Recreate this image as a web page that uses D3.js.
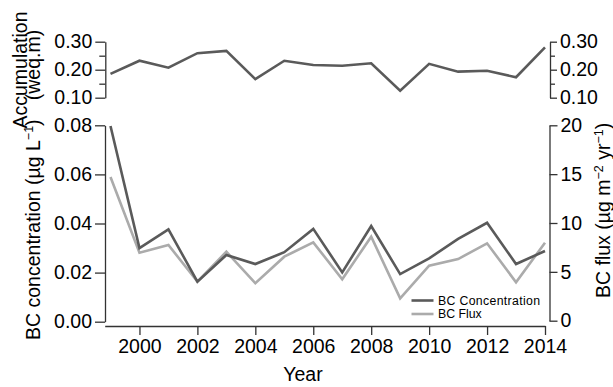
<!DOCTYPE html>
<html>
<head>
<meta charset="utf-8">
<script src="https://cdn.jsdelivr.net/npm/d3@7"></script>
<style>
  html, body { margin: 0; padding: 0; background: #fff; }
  svg { display: block; font-family: "Liberation Sans", Arial, sans-serif; }
  .axis text { font-size: 19.5px; fill: #000; }
  .axis path, .axis line { stroke: #333; stroke-width: 1.3; }
</style>
</head>
<body>
<svg id="chart" width="613" height="387"></svg>
<script>
// Annual records, 1999–2014
const years = [1999, 2000, 2001, 2002, 2003, 2004, 2005, 2006, 2007, 2008, 2009, 2010, 2011, 2012, 2013, 2014];
// Snow accumulation (weq.m)
const accumulation = [0.185, 0.232, 0.207, 0.259, 0.267, 0.166, 0.232, 0.217, 0.214, 0.223, 0.125, 0.221, 0.193, 0.196, 0.173, 0.280];
// BC concentration (µg L-1)
const bcConcentration = [0.0797, 0.0300, 0.0376, 0.0163, 0.0272, 0.0235, 0.0283, 0.0378, 0.0201, 0.0390, 0.0194, 0.0258, 0.0337, 0.0403, 0.0235, 0.0288];
// BC flux (µg m-2 yr-1)
const bcFlux = [14.7, 6.96, 7.75, 4.0, 7.06, 3.83, 6.55, 8.02, 4.24, 8.6, 2.29, 5.63, 6.31, 7.92, 3.93, 7.98];

const yearTicks = [2000, 2002, 2004, 2006, 2008, 2010, 2012, 2014];
const concTicks = [0, 0.02, 0.04, 0.06, 0.08];
const fluxTicks = [0, 5, 10, 15, 20];
const accTicks = [0.10, 0.15, 0.20, 0.25, 0.30];
const accLabelTicks = [0.10, 0.20, 0.30];

const DARK = "#5a5a5a";
const LIGHT = "#ababab";

const svg = d3.select("#chart");

const x = d3.scaleLinear().domain([1998.8, 2014]).range([104.7, 545]);
const yAcc = d3.scaleLinear().domain([0.10, 0.30]).range([97.7, 41.7]);
const yConc = d3.scaleLinear().domain([0, 0.08]).range([321.7, 125.3]);
const yFlux = d3.scaleLinear().domain([0, 20]).range([320.7, 125.3]);

// ---- top panel: accumulation ----
const accFmt = d => accLabelTicks.some(t => Math.abs(t - d) < 1e-9) ? d3.format(".2f")(d) : "";
const isMinor = d => accFmt(d) === "";

const accLeft = svg.append("g").attr("class", "axis")
  .attr("transform", "translate(105.3,0)")
  .call(d3.axisLeft(yAcc).tickValues(accTicks).tickFormat(accFmt).tickSize(10).tickSizeOuter(0).tickPadding(3));
accLeft.selectAll(".tick").filter(isMinor).select("line").attr("x2", -6);

const accRight = svg.append("g").attr("class", "axis")
  .attr("transform", "translate(550,0)")
  .call(d3.axisRight(yAcc).tickValues(accTicks).tickFormat(accFmt).tickSize(7).tickSizeOuter(0).tickPadding(3));
accRight.selectAll(".tick").filter(isMinor).select("line").attr("x2", 5);

svg.append("path")
  .datum(years.map((yr, i) => [yr, accumulation[i]]))
  .attr("fill", "none").attr("stroke", DARK).attr("stroke-width", 2.6).attr("stroke-linejoin", "miter")
  .attr("d", d3.line().x(d => x(d[0])).y(d => yAcc(d[1])));

// ---- bottom panel: BC concentration and flux ----
svg.append("g").attr("class", "axis")
  .attr("transform", "translate(105,0)")
  .call(d3.axisLeft(yConc).tickValues(concTicks).tickFormat(d3.format(".2f")).tickSize(10).tickSizeOuter(0).tickPadding(3));

svg.append("g").attr("class", "axis")
  .attr("transform", "translate(549.5,0)")
  .call(d3.axisRight(yFlux).tickValues(fluxTicks).tickFormat(d3.format("d")).tickSize(8).tickSizeOuter(0).tickPadding(3));

svg.append("g").attr("class", "axis")
  .attr("transform", "translate(0,326)")
  .call(d3.axisBottom(x).tickValues(yearTicks).tickFormat(d3.format("d")).tickSize(9).tickSizeOuter(0).tickPadding(4));

svg.append("path")
  .datum(years.map((yr, i) => [yr, bcFlux[i]]))
  .attr("fill", "none").attr("stroke", LIGHT).attr("stroke-width", 2.6)
  .attr("d", d3.line().x(d => x(d[0])).y(d => yFlux(d[1])));

svg.append("path")
  .datum(years.map((yr, i) => [yr, bcConcentration[i]]))
  .attr("fill", "none").attr("stroke", DARK).attr("stroke-width", 2.6)
  .attr("d", d3.line().x(d => x(d[0])).y(d => yConc(d[1])));

// ---- legend ----
const legend = svg.append("g").attr("transform", "translate(411.5,300.5)");
[["BC Concentration", DARK], ["BC Flux", LIGHT]].forEach(([name, color], i) => {
  const row = legend.append("g").attr("transform", `translate(0,${i * 13.5})`);
  row.append("line").attr("x1", 0).attr("x2", 22).attr("stroke", color).attr("stroke-width", 2.6);
  row.append("text").attr("x", 26.5).attr("y", 4.3).attr("font-size", 12.3)
    .attr("textLength", i === 0 ? 102 : null).attr("fill", "#000").text(name);
});

// ---- axis titles ----
const title = (tx, ty, anchor) => svg.append("text")
  .attr("transform", `translate(${tx},${ty}) rotate(-90)`)
  .attr("text-anchor", anchor).attr("font-size", 19.5).attr("fill", "#000");

const sup = (t, s) => t.append("tspan").attr("baseline-shift", "super").attr("font-size", 12.5).text(s);

svg.append("text")
  .attr("x", 303).attr("y", 381).attr("text-anchor", "middle")
  .attr("font-size", 19.5).attr("fill", "#000").text("Year");

title(27, 70, "middle").text("Accumulation");
title(40, 65, "middle").text("(weq.m)");

const concTitle = title(40, 340, "start");
concTitle.append("tspan").text("BC concentration (µg L");
sup(concTitle, "−1");
concTitle.append("tspan").text(")");

const fluxTitle = title(610, 298, "start");
fluxTitle.append("tspan").text("BC flux (µg m");
sup(fluxTitle, "−2");
fluxTitle.append("tspan").text(" yr");
sup(fluxTitle, "−1");
fluxTitle.append("tspan").text(")");
</script>
</body>
</html>
